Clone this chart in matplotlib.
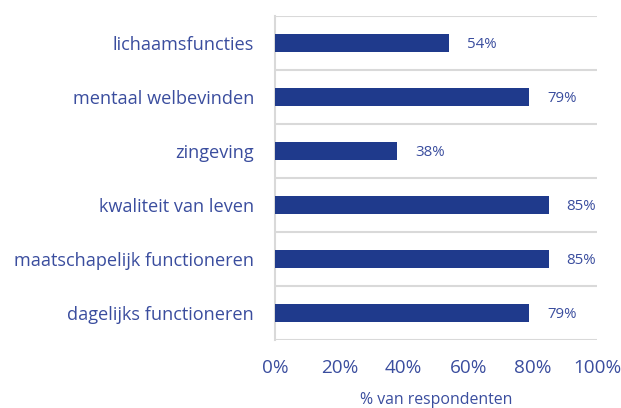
import matplotlib.pyplot as plt
import numpy as np

categories = ["lichaamsfuncties", "mentaal welbevinden", "zingeving",
              "kwaliteit van leven", "maatschapelijk functioneren",
              "dagelijks functioneren"]
values = [54, 79, 38, 85, 85, 79]
xticks = [0, 20, 40, 60, 80, 100]

bar_color = "#1F3A8C"
text_color = "#3A4D9E"
grid_color = "#D9D9D9"

plt.rcParams['font.family'] = ['Open Sans', 'DejaVu Sans']

fig = plt.figure(figsize=(6.21, 4.08), dpi=100)
ax = fig.add_axes([0.4428, 0.1667, 0.9614 - 0.4428, 0.9608 - 0.1667])

y = np.arange(len(categories))
ax.barh(y, values, height=0.32, color=bar_color, zorder=3)
for yi, v in zip(y, values):
    ax.text(v + 5.5, yi, f"{v}%", va="center_baseline", ha="left",
            color=text_color, fontsize=10.8)

ax.set_ylim(len(categories) - 0.5, -0.5)
ax.set_xlim(0, 100)
ax.set_yticks(y)
ax.set_yticklabels(categories, fontsize=13.1, color=text_color)
ax.set_xticks(xticks)
ax.set_xticklabels([f"{t}%" for t in xticks], fontsize=13.6, color=text_color)
ax.tick_params(length=0)
ax.tick_params(axis="y", pad=15)
ax.tick_params(axis="x", pad=14)

# horizontal separators between categories
for b in np.arange(-0.5, len(categories), 1.0):
    ax.axhline(b, color=grid_color, lw=1.5, zorder=1)

for s in ["top", "right", "bottom"]:
    ax.spines[s].set_visible(False)
ax.spines["left"].set_color(grid_color)
ax.spines["left"].set_linewidth(1.5)

ax.set_xlabel("% van respondenten", fontsize=11.4, color=text_color, labelpad=10.5)

fig.savefig("out.png", dpi=100)
